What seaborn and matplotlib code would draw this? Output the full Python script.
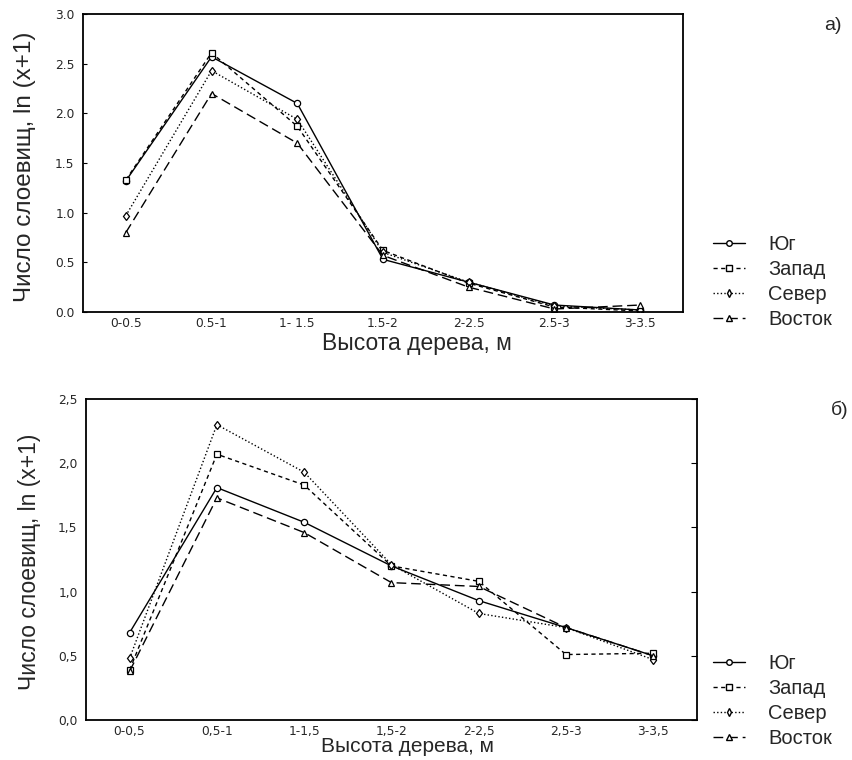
import matplotlib
matplotlib.use("Agg")
import matplotlib.pyplot as plt
import seaborn as sns
import pandas as pd
from matplotlib.lines import Line2D

sns.set_style("white")
plt.rcParams['font.family'] = ['Liberation Sans', 'DejaVu Sans']

series = ["Юг", "Запад", "Север", "Восток"]

cats_a = ["0-0.5", "0.5-1", "1- 1.5", "1.5-2", "2-2.5", "2.5-3", "3-3.5"]
yug_a    = [1.32, 2.57, 2.10, 0.53, 0.30, 0.07, 0.02]
zapad_a  = [1.33, 2.61, 1.87, 0.62, 0.29, 0.05, 0.01]
sever_a  = [0.97, 2.43, 1.94, 0.60, 0.30, 0.06, 0.02]
vostok_a = [0.80, 2.20, 1.70, 0.57, 0.25, 0.03, 0.07]

cats_b = ["0-0,5", "0,5-1", "1-1,5", "1,5-2", "2-2,5", "2,5-3", "3-3,5"]
yug_b    = [0.68, 1.81, 1.54, 1.20, 0.93, 0.72, 0.50]
zapad_b  = [0.39, 2.07, 1.83, 1.20, 1.08, 0.51, 0.52]
sever_b  = [0.48, 2.30, 1.93, 1.21, 0.83, 0.72, 0.47]
vostok_b = [0.38, 1.73, 1.46, 1.07, 1.04, 0.72, 0.50]

yticks_a = [0.0, 0.5, 1.0, 1.5, 2.0, 2.5, 3.0]
yticks_b = [0.0, 0.5, 1.0, 1.5, 2.0, 2.5]

dashes = {"Юг": "", "Запад": (3, 2.5), "Север": (1, 1.6), "Восток": (7, 3.5)}
markers = {"Юг": "o", "Запад": "s", "Север": "d", "Восток": "^"}
palette = {s: "black" for s in series}


def make_df(cats, vals):
    rows = []
    for s, v in zip(series, vals):
        for i, (c, y) in enumerate(zip(cats, v)):
            rows.append({"pos": i, "cat": c, "val": y, "dir": s})
    return pd.DataFrame(rows)


fig = plt.figure(figsize=(8.52, 7.6), dpi=100)
ax1 = fig.add_axes([0.0974, 0.5895, 0.7042, 0.392])
ax2 = fig.add_axes([0.1009, 0.0526, 0.7171, 0.4224])


def draw(ax, cats, vals, yticks, dec, ylim, legend_y, xl_size, xl_pos,
         yl_size, yl_pos):
    df = make_df(cats, vals)
    sns.lineplot(data=df, x="pos", y="val", hue="dir", style="dir",
                 palette=palette, dashes=dashes, markers=markers,
                 hue_order=series, style_order=series,
                 markerfacecolor="white", markeredgecolor="black",
                 markersize=4.5, markeredgewidth=0.9, linewidth=1.0,
                 ax=ax, legend=False)
    ax.set_xlim(-0.5, 6.5)
    ax.set_ylim(*ylim)
    ax.set_xticks(range(len(cats)))
    ax.set_xticklabels(cats, fontsize=8.8, family="DejaVu Sans")
    ax.set_yticks(yticks)
    ax.set_yticklabels([f"{t:.1f}".replace(".", dec) for t in yticks],
                       fontsize=8.8, family="DejaVu Sans")
    ax.tick_params(axis="x", length=0, pad=3.5)
    ax.tick_params(axis="y", length=0, pad=6)
    for sp in ax.spines.values():
        sp.set_color("black")
        sp.set_linewidth(1.3)
        sp.set_visible(True)
    ax.set_xlabel("Высота дерева, м", fontsize=xl_size, va="center",
                  ha="center")
    ax.xaxis.set_label_coords(*xl_pos)
    ax.set_ylabel("Число слоевищ, ln (x+1)", fontsize=yl_size, va="center",
                  ha="center")
    ax.yaxis.set_label_coords(*yl_pos)
    handles = [Line2D([0], [0], color="black", lw=1.0,
                      linestyle=("-" if dashes[s] == "" else (0, dashes[s])),
                      marker=markers[s], markersize=4,
                      markerfacecolor="white", markeredgecolor="black")
               for s in series]
    fig.legend(handles, series, loc="upper left",
               bbox_to_anchor=(0.827, legend_y), frameon=False,
               fontsize=14.5, handlelength=1.6, handletextpad=1.15,
               labelspacing=0.3, borderaxespad=0)


draw(ax1, cats_a, [yug_a, zapad_a, sever_a, vostok_a], yticks_a, ".",
     (0, 3.0), 0.701, 16.5, (0.557, -0.105), 17.5, (-0.0967, 0.487))
draw(ax2, cats_b, [yug_b, zapad_b, sever_b, vostok_b], yticks_b, ",",
     (0, 2.5), 0.150, 15, (0.527, -0.083), 16.5, (-0.0917, 0.492))

# inward ticks on left spine of upper panel
ax1.tick_params(axis="y", left=True, direction="in", length=3, color="black")
# inward ticks on right spine of lower panel
ax2.tick_params(axis="y", which="both", right=True, direction="in", length=4,
                color="black")
ax2.tick_params(axis="y", left=False)

fig.text(0.977, 0.966, "а)", fontsize=14, ha="center", va="center")
fig.text(0.986, 0.4605, "б)", fontsize=14, ha="center", va="center")

fig.savefig("out.png", dpi=100, facecolor="white")
